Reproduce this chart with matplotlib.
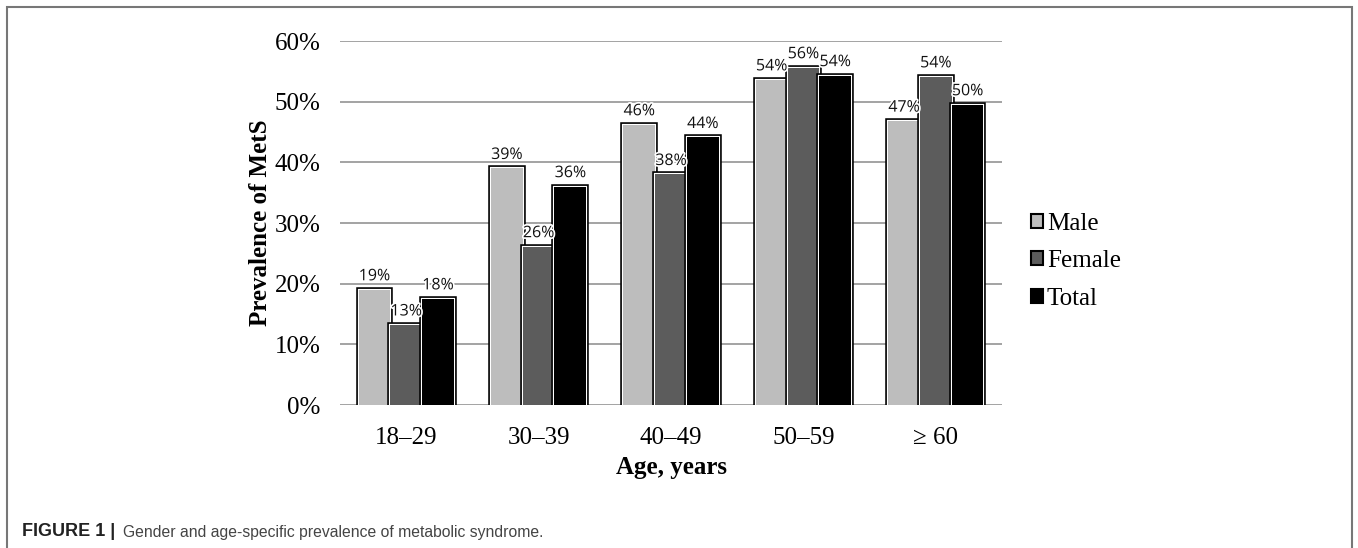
import matplotlib
matplotlib.use("Agg")
import matplotlib.pyplot as plt
import matplotlib.patheffects as pe
from matplotlib.patches import Patch, Rectangle
import numpy as np

categories = ["18–29", "30–39", "40–49", "50–59", "≥ 60"]
male = [19.0, 39.0, 46.2, 53.6, 46.8]
female = [13.2, 26.1, 38.0, 55.6, 54.1]
total = [17.5, 36.0, 44.1, 54.3, 49.5]
male_lbl = ["19%", "39%", "46%", "54%", "47%"]
female_lbl = ["13%", "26%", "38%", "56%", "54%"]
total_lbl = ["18%", "36%", "44%", "54%", "50%"]
yticks = [0, 10, 20, 30, 40, 50, 60]

W, H = 1358, 548
fig = plt.figure(figsize=(W / 100, H / 100), dpi=100)
ax = fig.add_axes([340 / W, 1 - 405 / H, 662 / W, (405 - 41) / H])

serif = "Liberation Serif"
x = np.arange(len(categories))
bw = 0.24
colors = ["#bdbdbd", "#5c5c5c", "#000000"]
series = [male, female, total]
labels = [male_lbl, female_lbl, total_lbl]
names = ["Male", "Female", "Total"]
effects = [pe.Stroke(linewidth=4, foreground="black"),
           pe.Stroke(linewidth=1.6, foreground="white"),
           pe.Normal()]
for i, (vals, col, lbls) in enumerate(zip(series, colors, labels)):
    bars = ax.bar(x + (i - 1) * bw, vals, bw, color=col, linewidth=0, zorder=3)
    for b in bars:
        b.set_path_effects(effects)
    for xi, v, t in zip(x + (i - 1) * bw, vals, lbls):
        ax.text(xi, v + 0.9, t, ha="center", va="bottom", fontsize=11.5,
                family="Open Sans", color="#111111", zorder=5,
                path_effects=[pe.withStroke(linewidth=2.5, foreground="white")])

ax.set_xlim(-0.5, len(categories) - 0.5)
ax.set_ylim(0, 60)
ax.set_yticks(yticks)
ax.set_yticklabels([f"{v}%" for v in yticks], family=serif, fontsize=18)
ax.set_xticks(x)
ax.set_xticklabels(categories, family=serif, fontsize=18)
ax.tick_params(axis="both", length=0)
ax.tick_params(axis="y", pad=14)
ax.tick_params(axis="x", pad=16)
ax.grid(axis="y", color="#8a8a8a", linewidth=1.1, zorder=0)
for s in ax.spines.values():
    s.set_visible(False)

ax.set_ylabel("Prevalence of MetS", family=serif, fontsize=18, fontweight="bold", labelpad=2)
ax.set_xlabel("Age, years", family=serif, fontsize=18, fontweight="bold", labelpad=5)

handles = [Patch(facecolor=c, edgecolor="black", linewidth=1.5) for c in colors]
fig.legend(handles, names, loc="center left", bbox_to_anchor=(1008 / W, 1 - 261 / H),
           frameon=False, prop={"family": serif, "size": 18},
           handlelength=0.5, handleheight=0.5, handletextpad=0.15, labelspacing=0.62)

fig.patches.append(Rectangle((7 / W, -0.05), (1352 - 7) / W, 1.05 - 7 / H,
                             transform=fig.transFigure, fill=False,
                             edgecolor="#777777", linewidth=1.5))

fig.text(22 / W, 1 - 532 / H, "FIGURE 1 |", family="Liberation Sans", fontweight="bold",
         fontsize=13, color="#222222", va="center")
fig.text(123 / W, 1 - 532 / H, "Gender and age-specific prevalence of metabolic syndrome.",
         family="Liberation Sans", fontsize=11.3, color="#444444", va="center")

fig.savefig("out.png", dpi=100)
